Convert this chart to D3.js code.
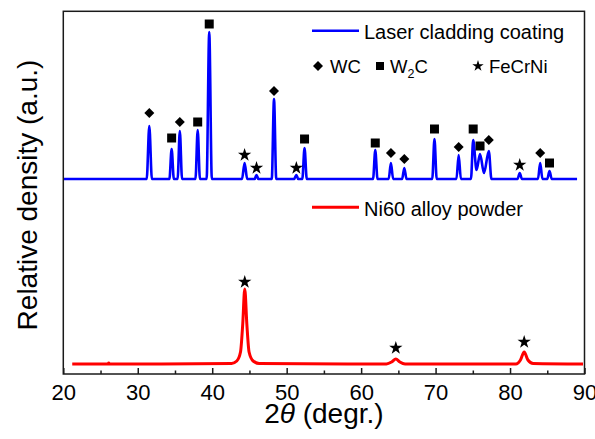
<!DOCTYPE html>
<html><head><meta charset="utf-8">
<script src="https://cdn.jsdelivr.net/npm/d3@7"></script>
<style>body{margin:0;background:#fff}svg{display:block;font-family:Arial,"Liberation Sans",sans-serif}</style>
</head><body><svg id="c" width="595" height="439"></svg>
<script>
// 2θ (degrees) vs relative density (a.u.)
const xTicks = [20, 30, 40, 50, 60, 70, 80, 90];
const xMinorTicks = [25, 35, 45, 55, 65, 75, 85];
const coating = [
  [20,195],[31.2,195],[31.55,248],[31.9,195],
  [34.25,195],[34.55,225],[34.85,195],
  [35.35,195],[35.65,243],[35.95,195],
  [37.75,195],[38.05,244],[38.35,195],
  [39.25,195],[39.6,342],[39.95,195],
  [44.0,195],[44.35,211],[44.7,195],
  [45.7,195],[45.95,199],[46.2,195],
  [48.0,195],[48.3,275],[48.6,195],
  [51.0,195],[51.3,199],[51.55,195],
  [52.1,195],[52.4,226],[52.7,195],
  [61.6,195],[61.9,224],[62.2,195],
  [63.7,195],[64.0,211],[64.3,195],
  [65.5,195],[65.8,206],[66.1,195],
  [69.55,195],[69.85,235],[70.15,195],
  [72.8,195],[73.1,219],[73.4,195],
  [74.75,195],[75.05,234],[75.5,204],[75.97,220],[76.5,201],[77.15,223],[77.5,195],
  [81.0,195],[81.3,201],[81.6,195],
  [83.75,195],[84.05,211],[84.35,195],
  [85.0,195],[85.3,203],[85.6,195],
  [89.0,195]
];
const powder = [
  [21.2,10],[26.0,10],[26.1,11],[26.2,10],[42.6,10.5],[43.3,13],[43.8,22],[44.1,50],[44.37,85],
  [44.65,50],[44.95,22],[45.5,13],[46.3,10.5],
  [63.4,10],[64.1,12],[64.66,15],[65.2,12],[65.9,10],
  [80.8,10],[81.4,14],[81.9,22],[82.4,14],[83.1,10.5],[89.8,10]
];
const wcMarks = [[31.55,261],[35.65,252],[48.3,283],[64.0,221],[65.8,215],[73.1,227],[77.15,234],[84.05,221]];
const w2cMarks = [[34.55,236],[38.05,252],[39.6,350],[52.4,235],[61.9,231],[69.85,245],[75.05,245],[75.97,228],[85.3,211]];
const fecrniMarks = [[44.35,220],[45.95,207],[51.3,207],[81.3,210],[44.37,93],[64.66,27],[81.9,33]];
const seriesNames = ["Laser cladding coating", "Ni60 alloy powder"];
const phaseNames = ["WC", "W", "FeCrNi"];

const svg = d3.select("#c");
const L = 63.3, R = 584.5, T = 11.3, B = 374;
const x = d3.scaleLinear().domain([20, 90]).range([L, R]);
const y = d3.scaleLinear().domain([0, 362.7]).range([B, T]);

const line = d3.line().x(d => x(d[0])).y(d => y(d[1])).curve(d3.curveMonotoneX);
svg.append("path").attr("d", line(coating)).attr("fill", "none").attr("stroke", "#0000ff").attr("stroke-width", 2.6).attr("stroke-linejoin", "round");
svg.append("path").attr("d", line(powder)).attr("fill", "none").attr("stroke", "#ff0000").attr("stroke-width", 3).attr("stroke-linejoin", "round");

// markers
const diamond = d3.symbol().type(d3.symbolSquare).size(50);
const square = d3.symbol().type(d3.symbolSquare).size(81);
const star = d3.symbol().type(d3.symbolStar).size(55);
svg.selectAll(".wc").data(wcMarks).join("path").attr("d", diamond())
  .attr("transform", d => `translate(${x(d[0])},${y(d[1])}) rotate(45)`).attr("fill", "#000");
svg.selectAll(".w2c").data(w2cMarks).join("path").attr("d", square())
  .attr("transform", d => `translate(${x(d[0])},${y(d[1])})`).attr("fill", "#000");
svg.selectAll(".st").data(fecrniMarks).join("path").attr("d", star())
  .attr("transform", d => `translate(${x(d[0])},${y(d[1]) + 1})`).attr("fill", "#000");

// frame
svg.append("rect").attr("x", L).attr("y", T).attr("width", R - L).attr("height", B - T)
  .attr("fill", "none").attr("stroke", "#1a1a1a").attr("stroke-width", 1.5);

// bottom axis, ticks pointing in
const ax = svg.append("g").attr("transform", `translate(0,${B})`)
  .call(d3.axisBottom(x).tickValues(xTicks).tickSizeInner(-6).tickSizeOuter(0).tickPadding(10).tickFormat(d3.format("d")));
ax.select(".domain").remove();
ax.selectAll("line").attr("stroke", "#1a1a1a").attr("stroke-width", 1.5);
ax.selectAll("text").attr("font-size", 22).attr("fill", "#000").attr("font-family", "Arial, 'Liberation Sans', sans-serif");
const axm = svg.append("g").attr("transform", `translate(0,${B})`)
  .call(d3.axisBottom(x).tickValues(xMinorTicks).tickSizeInner(-3.5).tickSizeOuter(0).tickFormat(""));
axm.select(".domain").remove();
axm.selectAll("line").attr("stroke", "#1a1a1a").attr("stroke-width", 1.5);

// axis titles
const xt = svg.append("text").attr("x", (L + R) / 2).attr("y", 423).attr("text-anchor", "middle").attr("font-size", 28).attr("fill", "#000");
xt.append("tspan").text("2");
xt.append("tspan").attr("font-style", "italic").text("θ");
xt.append("tspan").text(" (degr.)");
svg.append("text").attr("transform", "translate(37,195) rotate(-90)").attr("text-anchor", "middle")
  .attr("font-size", 28).attr("fill", "#000").text("Relative density (a.u.)");

// legends
svg.append("line").attr("x1", 312).attr("x2", 359).attr("y1", 30.7).attr("y2", 30.7).attr("stroke", "#0000ff").attr("stroke-width", 2.6);
svg.append("text").attr("x", 364).attr("y", 39.3).attr("font-size", 20).attr("fill", "#000").text(seriesNames[0]);
svg.append("line").attr("x1", 312).attr("x2", 359).attr("y1", 207.3).attr("y2", 207.3).attr("stroke", "#ff0000").attr("stroke-width", 3);
svg.append("text").attr("x", 364).attr("y", 215.5).attr("font-size", 20).attr("fill", "#000").text(seriesNames[1]);

const ly = 66;
svg.append("path").attr("d", d3.symbol().type(d3.symbolSquare).size(50)()).attr("transform", `translate(318,${ly}) rotate(45)`);
svg.append("text").attr("x", 330).attr("y", 73).attr("font-size", 18.5).text(phaseNames[0]);
svg.append("path").attr("d", d3.symbol().type(d3.symbolSquare).size(64)()).attr("transform", `translate(380,${ly})`);
const wt = svg.append("text").attr("x", 390).attr("y", 73).attr("font-size", 18.5);
wt.append("tspan").text(phaseNames[1]);
wt.append("tspan").attr("font-size", 12.5).attr("dy", 4.5).text("2");
wt.append("tspan").attr("dy", -4.5).text("C");
svg.append("path").attr("d", d3.symbol().type(d3.symbolStar).size(40)()).attr("transform", `translate(478,${ly})`);
svg.append("text").attr("x", 489).attr("y", 73).attr("font-size", 18.5).text(phaseNames[2]);
</script></body></html>
